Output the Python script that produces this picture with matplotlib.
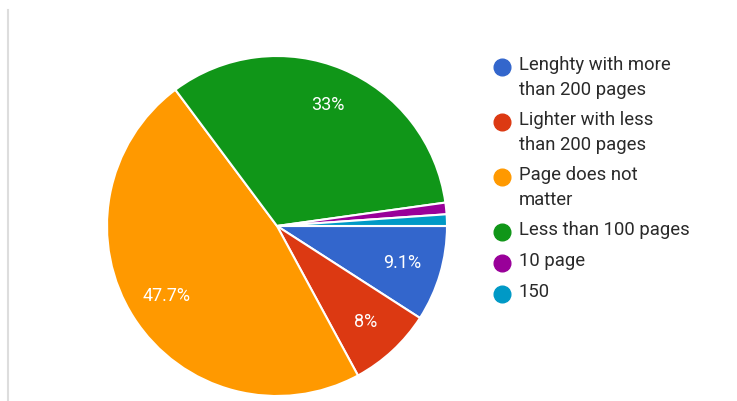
import matplotlib.pyplot as plt
from matplotlib.lines import Line2D

# slice data, clockwise from 3 o'clock
labels = ['Lenghty with more\nthan 200 pages', 'Lighter with less\nthan 200 pages',
          'Page does not\nmatter', 'Less than 100 pages', '10 page', '150']
values = [9.1, 8.0, 47.7, 33.0, 1.1, 1.1]
pct_text = ['9.1%', '8%', '47.7%', '33%', '', '']
colors = ['#3366cc', '#dc3912', '#ff9900', '#109618', '#990099', '#0099c6']

plt.rcParams['font.family'] = ['Roboto', 'DejaVu Sans']

fig = plt.figure(figsize=(7.37, 4.01), dpi=100)

# pie axes: centre ~ (277, 226) px, radius ~170 px
ax = fig.add_axes([107 / 737, 5 / 401, 340 / 737, 340 / 401])
wedges, texts, autotexts = ax.pie(values, colors=colors, startangle=0, counterclock=False,
                                  radius=1, autopct=lambda p: '', pctdistance=0.77,
                                  wedgeprops=dict(edgecolor='white', linewidth=1.5))
for t, s in zip(autotexts, pct_text):
    t.set_text(s)
    t.set_color('white')
    t.set_fontsize(13)
ax.set_xlim(-1, 1)
ax.set_ylim(-1, 1)
ax.set_aspect('equal')
ax.axis('off')

# thin gray border on the left
fig.add_artist(Line2D([8 / 737, 8 / 737], [0, 1 - 10 / 401], color='#dddddd', lw=1.5))

# legend drawn by hand, marker next to the first line of each label
y = 67
for lab, c in zip(labels, colors):
    fy = 1 - y / 401
    fig.add_artist(Line2D([502 / 737], [fy], marker='o', markersize=12,
                          color=c, linestyle='none'))
    fig.text(519 / 737, fy + 11 / 401, lab, ha='left', va='top', fontsize=13.3,
             color='#2a2a2a', linespacing=1.52)
    y += 24 * lab.count('\n') + 31

fig.savefig('out.png', dpi=100)
